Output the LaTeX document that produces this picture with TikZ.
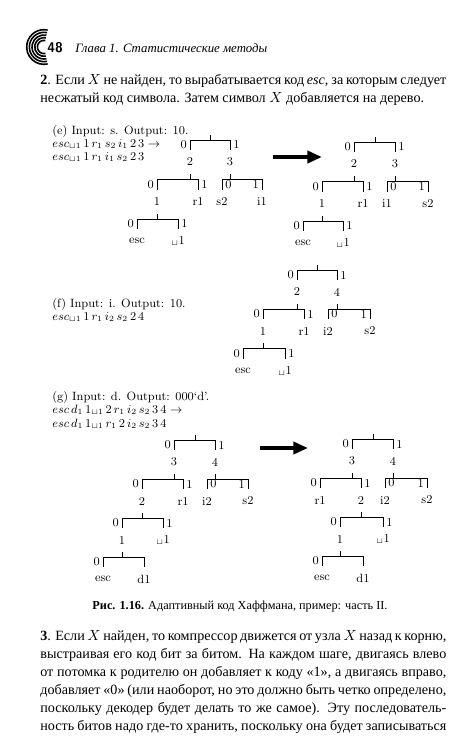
\documentclass[tikz,border=0pt]{standalone}
\usepackage{amsmath}
\usepackage{fontspec}
\usetikzlibrary{arrows.meta, calc}
\newfontfamily\ru{Liberation Serif}
\newcommand{\spc}{\ensuremath{{}_{\sqcup}}}
% bracket under a tree node: tick, bar, two legs
\newcommand{\fork}[5]{%
  \draw (#1.south) -- ++(0,5);
  \draw (#2.north) |- #4 ($(#1.south)+(0,5)$) -| #5 (#3.north);}
\newcommand{\bodyline}[1]{\makebox[304.5pt][s]{#1}}

\begin{document}
\begin{tikzpicture}[x=0.75pt, y=-0.75pt, line width=0.5pt,
    tn/.style={inner sep=0pt, minimum height=18pt, font=\fontsize{9}{10}\selectfont},
    bit/.style={inner xsep=2.2pt, inner ysep=0pt, font=\fontsize{9}{10}\selectfont},
    bz/.style={bit, pos=.25, left},
    bzi/.style={bit, pos=.25, right},
    bo/.style={bit, pos=.75, right},
    boi/.style={bit, pos=.75, left},
    bigarrow/.style={line width=3.6pt, -{Triangle[length=11pt, width=9pt]}},
    txt/.style={anchor=base west, inner sep=0pt},
    fig/.style={txt, font=\fontsize{9}{10}\selectfont},
    body/.style={txt, font=\ru\fontsize{10.6}{13.5}\selectfont}]
\useasboundingbox (0,0) rectangle (473,750);

% running head
\coordinate (lg) at (44,47);
\foreach \r in {5,7,9,11,13}
  \draw[line width=1.2pt] (lg) ++(78:\r pt) arc[start angle=78, end angle=282, radius=\r pt];
\node[txt, font=\sffamily\bfseries\fontsize{10.5}{12}\selectfont] (pg) at (47,52) {48};
\node[txt, font=\ru\itshape\fontsize{9.6}{12}\selectfont] (hd) at (75,52) {Глава 1. Статистические методы};

% paragraph 2
\node[body] (p2a) at (40,84) {\bodyline{\textbf{2}. Если $X$ не найден, то вырабатывается код \textit{esc}, за которым следует}};
\node[body] (p2b) at (40,102) {несжатый код символа. Затем символ $X$ добавляется на дерево.};

% (e)
\node[fig] (eT) at (52,134) {(e) Input: s. Output: 10.};
\node[fig] (eC1) at (52,147) {$esc_{\sqcup1}\,1\,r_1\,s_2\,i_1\,2\,3\rightarrow$};
\node[fig] (eC2) at (52,160) {$esc_{\sqcup1}\,1\,r_1\,i_1\,s_2\,2\,3$};

\node[tn] (eL) at (210,123) {};
\node[tn] (eL2) at (190,162) {2};
\node[tn] (eL3) at (230,162) {3};
\node[tn] (eL1) at (157,202) {1};
\node[tn] (eLr) at (198,202) {r1};
\node[tn] (eLs) at (222,202) {s2};
\node[tn] (eLi) at (262,202) {i1};
\node[tn] (eLe) at (137,241) {esc};
\node[tn] (eLu) at (178,241) {\spc1};
\fork{eL}{eL2}{eL3}{node[bz]{0}}{node[bo]{1}}
\fork{eL2}{eL1}{eLr}{node[bz]{0}}{node[bo]{1}}
\fork{eL3}{eLs}{eLi}{node[bzi]{0}}{node[boi]{1}}
\fork{eL1}{eLe}{eLu}{node[bz]{0}}{node[bo]{1}}

\coordinate (eA) at (273,157);
\coordinate (eB) at (322,157);
\draw[bigarrow] (eA) -- (eB);

\node[tn] (eR) at (375,125) {};
\node[tn] (eR2) at (354,164) {2};
\node[tn] (eR3) at (395,164) {3};
\node[tn] (eR1) at (322,204) {1};
\node[tn] (eRr) at (363,204) {r1};
\node[tn] (eRi) at (387,204) {i1};
\node[tn] (eRs) at (428,204) {s2};
\node[tn] (eRe) at (303,243) {esc};
\node[tn] (eRu) at (343,243) {\spc1};
\fork{eR}{eR2}{eR3}{node[bz]{0}}{node[bo]{1}}
\fork{eR2}{eR1}{eRr}{node[bz]{0}}{node[bo]{1}}
\fork{eR3}{eRi}{eRs}{node[bzi]{0}}{node[boi]{1}}
\fork{eR1}{eRe}{eRu}{node[bz]{0}}{node[bo]{1}}

% (f)
\node[fig] (fT) at (52,307) {(f) Input: i. Output: 10.};
\node[fig] (fC1) at (52,320) {$esc_{\sqcup1}\,1\,r_1\,i_2\,s_2\,2\,4$};

\node[tn] (f) at (317,253) {};
\node[tn] (f2) at (297,292) {2};
\node[tn] (f4) at (337,292) {4};
\node[tn] (f1) at (263,331) {1};
\node[tn] (fr) at (304,331) {r1};
\node[tn] (fi) at (328,331) {i2};
\node[tn] (fs) at (370,331) {s2};
\node[tn] (fe) at (243,371) {esc};
\node[tn] (fu) at (285,371) {\spc1};
\fork{f}{f2}{f4}{node[bz]{0}}{node[bo]{1}}
\fork{f2}{f1}{fr}{node[bz]{0}}{node[bo]{1}}
\fork{f4}{fi}{fs}{node[bzi]{0}}{node[boi]{1}}
\fork{f1}{fe}{fu}{node[bz]{0}}{node[bo]{1}}

% (g)
\node[fig] (gT) at (52,400) {(g) Input: d. Output: 000`d'.};
\node[fig] (gC1) at (52,413) {$esc\,d_1\,1_{\sqcup1}\,2\,r_1\,i_2\,s_2\,3\,4\rightarrow$};
\node[fig] (gC2) at (52,427) {$esc\,d_1\,1_{\sqcup1}\,r_1\,2\,i_2\,s_2\,3\,4$};

\node[tn] (gL) at (195,423) {};
\node[tn] (gL3) at (174,462) {3};
\node[tn] (gL4) at (215,462) {4};
\node[tn] (gL2) at (142,501) {2};
\node[tn] (gLr) at (183,501) {r1};
\node[tn] (gLi) at (207,501) {i2};
\node[tn] (gLs) at (248,501) {s2};
\node[tn] (gL1) at (122,540) {1};
\node[tn] (gLu) at (163,540) {\spc1};
\node[tn] (gLe) at (103,579) {esc};
\node[tn] (gLd) at (144,579) {d1};
\fork{gL}{gL3}{gL4}{node[bz]{0}}{node[bo]{1}}
\fork{gL3}{gL2}{gLr}{node[bz]{0}}{node[bo]{1}}
\fork{gL4}{gLi}{gLs}{node[bzi]{0}}{node[boi]{1}}
\fork{gL2}{gL1}{gLu}{node[bz]{0}}{node[bo]{1}}
\fork{gL1}{gLe}{gLd}{node[bz]{0}}{}

\coordinate (gA) at (260,448);
\coordinate (gB) at (308,448);
\draw[bigarrow] (gA) -- (gB);

\node[tn] (gR) at (373,422) {};
\node[tn] (gR3) at (352,461) {3};
\node[tn] (gR4) at (393,461) {4};
\node[tn] (gRr) at (320,500) {r1};
\node[tn] (gR2) at (361,500) {2};
\node[tn] (gRi) at (385,500) {i2};
\node[tn] (gRs) at (427,500) {s2};
\node[tn] (gR1) at (340,539) {1};
\node[tn] (gRu) at (383,539) {\spc1};
\node[tn] (gRe) at (322,578) {esc};
\node[tn] (gRd) at (363,578) {d1};
\fork{gR}{gR3}{gR4}{node[bz]{0}}{node[bo]{1}}
\fork{gR3}{gRr}{gR2}{node[bz]{0}}{node[bo]{1}}
\fork{gR4}{gRi}{gRs}{node[bzi]{0}}{node[boi]{1}}
\fork{gR2}{gR1}{gRu}{node[bz]{0}}{node[bo]{1}}
\fork{gR1}{gRe}{gRd}{node[bz]{0}}{}

% caption
\node[anchor=base, inner sep=0pt, font=\ru\fontsize{9.2}{11}\selectfont] (cap) at (240,609)
  {\textbf{Рис. 1.16.} Адаптивный код Хаффмана, пример: часть II.};

% paragraph 3
\node[body] (p3a) at (40,640) {\bodyline{\textbf{3}. Если $X$ найден, то компрессор движется от узла $X$ назад к корню,}};
\node[body] (p3b) at (40,658) {\bodyline{выстраивая его код бит за битом. На каждом шаге, двигаясь влево}};
\node[body] (p3c) at (40,676) {\bodyline{от потомка к родителю он добавляет к коду «1», а двигаясь вправо,}};
\node[body] (p3d) at (40,694) {\bodyline{добавляет «0» (или наоборот, но это должно быть четко определено,}};
\node[body] (p3e) at (40,712) {\bodyline{поскольку декодер будет делать то же самое). Эту последователь-}};
\node[body] (p3f) at (40,730) {\bodyline{ность битов надо где-то хранить, поскольку она будет записываться}};
\end{tikzpicture}
\end{document}
